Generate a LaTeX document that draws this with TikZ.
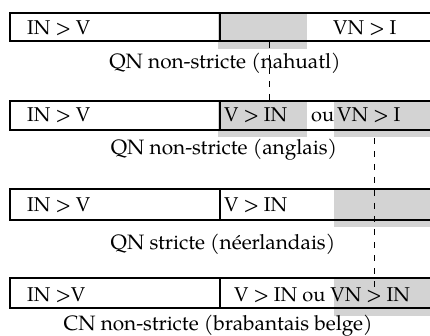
\documentclass[tikz,border=0pt]{standalone}
\usepackage{fontspec}
\setmainfont{TeX Gyre Pagella}
\begin{document}
\begin{tikzpicture}[x=1pt,y=-1pt,
  band/.style={draw=black,line width=2pt},
  divider/.style={draw=black,line width=2pt},
  shade/.style={fill={rgb,255:red,211;green,211;blue,211},draw=none},
  txt/.style={inner sep=0pt,anchor=base west,font=\fontsize{20}{23}\selectfont},
  caption/.style={inner sep=0pt,anchor=base,font=\fontsize{20.8}{24}\selectfont},
  link/.style={draw=black,line width=1.9pt,dash pattern=on 6pt off 7pt}]
\useasboundingbox (0,0) rectangle (430,336);

% shaded zones
\fill[shade] (217.5,14) rectangle (307,49);
\fill[shade] (217.5,102) rectangle (307,137);
\fill[shade] (334,102) rectangle (432,137);
\fill[shade] (334,190) rectangle (432,227);
\fill[shade] (334,279) rectangle (432,316);

% bands and dividers
\draw[band] (10,13) rectangle (434,41);
\draw[divider] (219.5,13) -- (219.5,41);
\draw[band] (10,101) rectangle (434,130);
\draw[divider] (219.5,101) -- (219.5,130);
\draw[band] (10,189) rectangle (434,220);
\draw[divider] (219.5,189) -- (219.5,220);
\draw[band] (10,278) rectangle (434,308);
\draw[divider] (219.5,278) -- (219.5,308);

% row 1
\node[txt] (a1) at (27,34.5) {IN > V};
\node[txt] (b1) at (333,34.5) {VN > I};
\node[caption] (c1) at (225,69) {QN non-stricte (nahuatl)};
% row 2
\node[txt] (a2) at (27,122) {IN > V};
\node[txt] (b2) at (224,122) {V > IN};
\node[txt] (o2) at (311,122) {ou};
\node[txt] (d2) at (337,122) {VN > I};
\node[caption] (c2) at (224,155) {QN non-stricte (anglais)};
% row 3
\node[txt] (a3) at (27,212) {IN > V};
\node[txt] (b3) at (224,212) {V > IN};
\node[caption] (c3) at (223,249) {QN stricte (néerlandais)};
% row 4
\node[txt] (a4) at (27,301) {IN >V};
\node[txt] (b4) at (234,301) {V > IN ou VN > IN};
\node[caption] (c4) at (218,330) {CN non-stricte (brabantais belge)};

% dashed links between rows
\coordinate (p1) at (269.5,42);
\coordinate (q1) at (269.5,105);
\coordinate (p2) at (374.5,138);
\coordinate (q2) at (374.5,289);
\draw[link] (p1) -- (q1);
\draw[link] (p2) -- (q2);
\end{tikzpicture}
\end{document}
